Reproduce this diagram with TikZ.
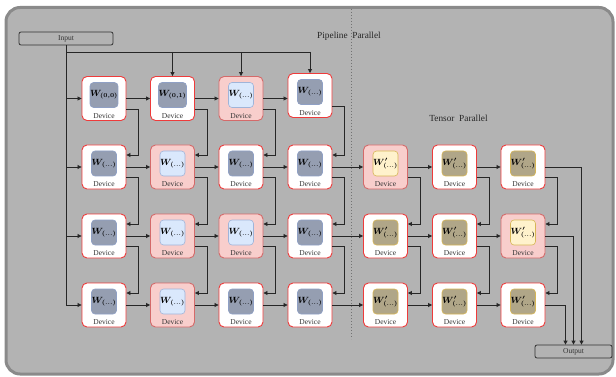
\documentclass[tikz,border=0pt]{standalone}
\usepackage{fontspec}
\setmainfont{Liberation Serif}
\usepackage{amsmath}
\usetikzlibrary{calc,arrows.meta}
\definecolor{framefill}{HTML}{B3B3B3}
\definecolor{framedraw}{HTML}{8A8A8A}
\definecolor{innerdk}{HTML}{959EB1}
\definecolor{innerdkd}{HTML}{8FA0C5}
\definecolor{innerlt}{HTML}{DAE8FC}
\definecolor{innerltd}{HTML}{9FB4D9}
\definecolor{innertan}{HTML}{B0A688}
\definecolor{inneryel}{HTML}{FFF2CC}
\definecolor{inneryeld}{HTML}{D6B656}
\definecolor{pinkfill}{HTML}{F8CECC}
\definecolor{pinkdraw}{HTML}{D46A6A}
\definecolor{reddraw}{HTML}{EE3B3B}
\newcommand{\mkdev}[6]{%
  \node[devbox,#4] (#1) at (#2,#3) {};
  \node[innersq,#5] (#1w) at ($(#1)+(0,-3.5)$) {#6};
  \node[devlbl] (#1l) at ($(#1)+(0,17.5)$) {Device};
}
\newcommand{\Wd}{$\boldsymbol{W_{(...)}}$}
\newcommand{\Wp}{$\boldsymbol{W'_{(...)}}$}
\begin{document}
\begin{tikzpicture}[x=1pt,y=-1pt,
  devbox/.style={draw, line width=0.9pt, rounded corners=5pt, minimum width=44pt, minimum height=44pt, inner sep=0pt},
  wbox/.style={fill=white, draw=reddraw},
  pbox/.style={fill=pinkfill, draw=pinkdraw},
  innersq/.style={rounded corners=3.5pt, minimum size=25pt, inner sep=0pt, line width=0.6pt, font=\fontsize{9}{10}\selectfont},
  wdark/.style={fill=innerdk, draw=innerdkd},
  wlight/.style={fill=innerlt, draw=innerltd},
  wtan/.style={fill=innertan, draw=inneryeld},
  wyel/.style={fill=inneryel, draw=inneryeld},
  devlbl/.style={font=\fontsize{7.5}{8}\selectfont, inner sep=0pt, text=black!80},
  iobox/.style={draw=black!80, line width=0.8pt, rounded corners=2pt, minimum width=94pt, minimum height=13pt, inner sep=0pt, font=\fontsize{7.5}{8}\selectfont, text=black!80},
  ttl/.style={font=\fontsize{9.3}{10}\selectfont, inner sep=0pt, text=black!85},
  conn/.style={draw=black!85, line width=0.8pt},
  arr/.style={conn, -{Triangle[length=4pt,width=4pt]}}
]
\useasboundingbox (0,0) rectangle (616,377);
\draw[fill=framefill, draw=framedraw, line width=3pt, rounded corners=14pt] (6,7.5) rectangle (613,374);

\coordinate (dtop) at (351,9);
\coordinate (dbot) at (351,339);
\draw[dotted, line width=1pt, draw=black!55] (dtop) -- (dbot);

\node[ttl] (pp) at (349,36) {Pipeline\ \ Parallel};
\node[ttl] (tp) at (458.5,118) {Tensor\ \ Parallel};

\node[iobox] (inp) at (66,38.5) {Input};
\node[iobox, minimum width=77pt] (out) at (573.5,351.5) {Output};

% row 1
\mkdev{d11}{104}{98.5}{wbox}{wdark}{$\boldsymbol{W_{(0,0)}}$}
\mkdev{d12}{172.5}{98.5}{wbox}{wdark}{$\boldsymbol{W_{(0,1)}}$}
\mkdev{d13}{241}{98.5}{pbox}{wlight}{\Wd}
\mkdev{d14}{310}{95.5}{wbox}{wdark}{\Wd}
% row 2
\mkdev{d21}{104}{167}{wbox}{wdark}{\Wd}
\mkdev{d22}{172.5}{167}{pbox}{wlight}{\Wd}
\mkdev{d23}{241}{167}{wbox}{wdark}{\Wd}
\mkdev{d24}{310}{167}{wbox}{wdark}{\Wd}
\mkdev{d25}{385.5}{167}{pbox}{wyel}{\Wp}
\mkdev{d26}{454.5}{167}{wbox}{wtan}{\Wp}
\mkdev{d27}{523}{167}{wbox}{wtan}{\Wp}
% row 3
\mkdev{d31}{104}{236}{wbox}{wdark}{\Wd}
\mkdev{d32}{172.5}{236}{pbox}{wlight}{\Wd}
\mkdev{d33}{241}{236}{pbox}{wlight}{\Wd}
\mkdev{d34}{310}{236}{wbox}{wdark}{\Wd}
\mkdev{d35}{385.5}{236}{wbox}{wtan}{\Wp}
\mkdev{d36}{454.5}{236}{wbox}{wtan}{\Wp}
\mkdev{d37}{523}{236}{pbox}{wyel}{\Wp}
% row 4
\mkdev{d41}{104}{305}{wbox}{wdark}{\Wd}
\mkdev{d42}{172.5}{305}{pbox}{wlight}{\Wd}
\mkdev{d43}{241}{305}{wbox}{wdark}{\Wd}
\mkdev{d44}{310}{305}{wbox}{wdark}{\Wd}
\mkdev{d45}{385.5}{305}{wbox}{wtan}{\Wp}
\mkdev{d46}{454.5}{305}{wbox}{wtan}{\Wp}
\mkdev{d47}{523}{305}{wbox}{wtan}{\Wp}

% input bus
\coordinate (bus) at (66,52);
\draw[conn] (inp.south) -- (inp.south |- d41.west);
\draw[conn] (inp.south |- bus) -- (bus -| d14.north);
\foreach \b in {d12,d13,d14} \draw[arr] (bus -| \b.north) -- (\b.north);
\foreach \b in {d11,d21,d31,d41} \draw[arr] (inp.south |- \b.west) -- (\b.west);

% row arrows
\foreach \a/\b in {d11/d12,d12/d13,d13/d14,
  d21/d22,d22/d23,d23/d24,d24/d25,d25/d26,d26/d27,
  d31/d32,d32/d33,d33/d34,d34/d35,d35/d36,d36/d37,
  d41/d42,d42/d43,d43/d44,d44/d45,d45/d46,d46/d47}
  \draw[arr] (\a.east) -- (\a.east -| \b.west);

% elbows down
\foreach \a/\b in {d11/d21,d12/d22,d13/d23,d14/d24,
  d21/d31,d22/d32,d23/d33,d24/d34,d25/d35,d26/d36,d27/d37,
  d31/d41,d32/d42,d33/d43,d34/d44,d35/d45,d36/d46,d37/d47}
  \draw[arr] ($(\a.east)+(0,10.5)$) -- ++(12,0) |- ($(\b.east)+(0,-12)$);

% to output
\draw[arr] (d27.east) -| ($(out.north)+(8,0)$);
\draw[arr] (d37.east) -| (out.north);
\draw[arr] (d47.east) -| ($(out.north)+(-8,0)$);
\end{tikzpicture}
\end{document}
